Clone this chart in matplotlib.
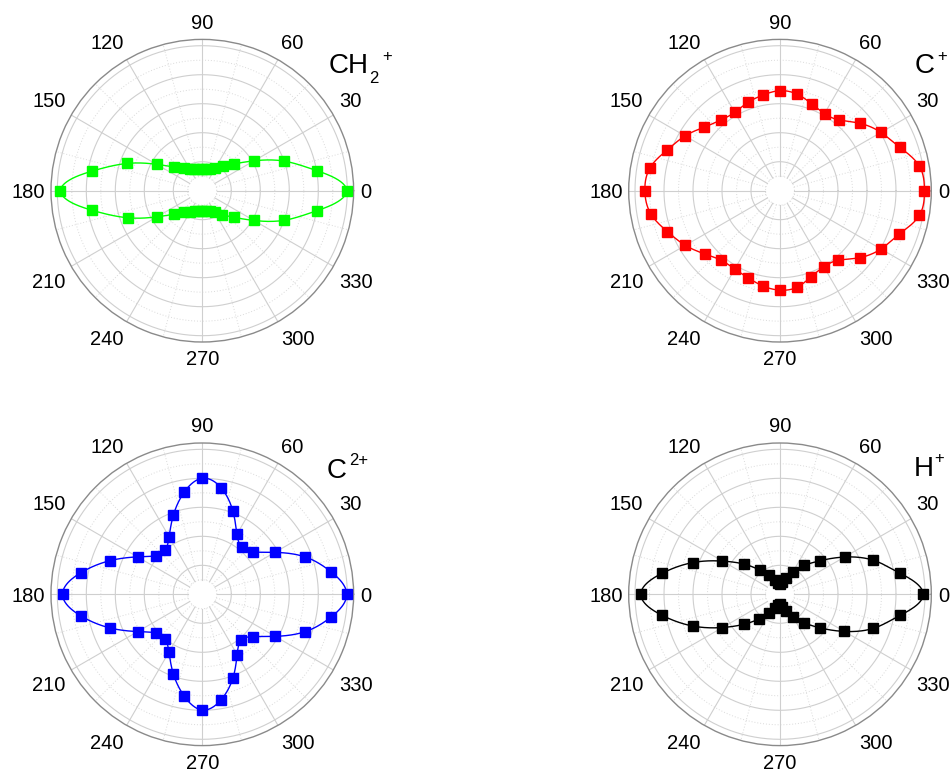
import numpy as np
import matplotlib
matplotlib.use('Agg')
import matplotlib.pyplot as plt

plt.rcParams['font.family'] = ['Liberation Sans', 'DejaVu Sans']

# ---------------- data ----------------
angles_deg = list(range(0, 360, 10))

ch2_plus = [4.98, 4.00, 2.99, 2.06, 1.44, 1.11, 0.90, 0.80, 0.75, 0.74, 0.75, 0.79,
            0.87, 1.00, 1.28, 1.82, 2.75, 3.87, 4.89, 3.87, 2.73, 1.80, 1.26, 0.98,
            0.85, 0.76, 0.71, 0.70, 0.71, 0.76, 0.86, 1.08, 1.43, 2.05, 2.99, 4.00]

c_plus = [4.98, 4.88, 4.39, 4.02, 3.61, 3.18, 3.07, 3.19, 3.38, 3.45, 3.35, 3.24,
          3.12, 3.18, 3.41, 3.78, 4.13, 4.55, 4.66, 4.53, 4.13, 3.77, 3.39, 3.14,
          3.12, 3.20, 3.34, 3.43, 3.38, 3.15, 3.03, 3.13, 3.59, 4.02, 4.38, 4.88]

c2_plus = [4.98, 4.50, 3.77, 2.89, 2.26, 2.11, 2.39, 3.07, 3.73, 4.00, 3.58, 2.91,
           2.29, 1.98, 2.07, 2.58, 3.39, 4.26, 4.82, 4.26, 3.39, 2.57, 2.07, 1.99,
           2.30, 2.92, 3.57, 3.99, 3.70, 3.08, 2.40, 2.07, 2.27, 2.90, 3.77, 4.51]

h_plus = [4.94, 4.20, 3.43, 2.57, 1.80, 1.30, 0.90, 0.60, 0.42, 0.34, 0.40, 0.54,
          0.75, 1.09, 1.62, 2.29, 3.20, 4.14, 4.80, 4.14, 3.20, 2.29, 1.60, 1.10,
          0.75, 0.52, 0.37, 0.32, 0.44, 0.62, 0.90, 1.28, 1.80, 2.56, 3.43, 4.20]

series = [ch2_plus, c_plus, c2_plus, h_plus]
# species label parts: (base, subscript, superscript)
species_base = ['CH', 'C', 'C', 'H']
species_sub = ['2', '', '', '']
species_sup = ['+', '+', '2+', '+']
colors = ['#00ff00', '#ff0000', '#0000ff', '#000000']

angle_ticks = list(range(0, 360, 30))
angle_labels = [str(a) for a in angle_ticks]

major_rings = [1, 2, 3, 4, 5]
minor_rings = [0.5, 1.5, 2.5, 3.5, 4.5]

# ---------------- layout (pixels) ----------------
W, H = 953, 772
R = 151.3
RMAX = R / 29.0
centers = [(202.3, 190.7), (780.0, 190.7), (202.3, 594.3), (780.0, 594.3)]
base_pos = [(328.3, 73.3), (915.0, 73.3), (326.7, 478.3), (913.3, 476.5)]
sub_pos = [(369.5, 83.0), None, None, None]
sup_pos = [(382.0, 61.5), (937.0, 60.5), (349.5, 465.0), (933.8, 463.5)]

label_style = {
    0: (7.0, 0.0, 'left', 'center_baseline'),
    30: (5.6, -8.5, 'left', 'baseline'),
    60: (3.2, -10.2, 'left', 'baseline'),
    90: (0.0, -10.7, 'center', 'baseline'),
    120: (-3.2, -10.2, 'right', 'baseline'),
    150: (-5.6, -8.5, 'right', 'baseline'),
    180: (-6.0, 0.0, 'right', 'center_baseline'),
    210: (-5.6, 6.5, 'right', 'top'),
    240: (-3.4, 8.2, 'right', 'top'),
    270: (0.0, 8.0, 'center', 'top'),
    300: (3.4, 8.2, 'left', 'top'),
    330: (5.6, 6.5, 'left', 'top'),
}


def periodic_spline(vals, steps=24):
    y = np.asarray(vals, dtype=float)
    n = len(y)
    h = 2 * np.pi / n
    A = 4.0 * np.eye(n)
    for i in range(n):
        A[i, (i - 1) % n] = 1.0
        A[i, (i + 1) % n] = 1.0
    rhs = 6.0 / h ** 2 * (np.roll(y, -1) - 2 * y + np.roll(y, 1))
    M = np.linalg.solve(A, rhs)
    u = np.arange(steps) / steps
    ts, rs = [], []
    for i in range(n):
        j = (i + 1) % n
        s = ((1 - u) * y[i] + u * y[j]
             + h ** 2 / 6.0 * (((1 - u) ** 3 - (1 - u)) * M[i] + (u ** 3 - u) * M[j]))
        ts.append(i * h + u * h)
        rs.append(s)
    t = np.concatenate(ts + [[2 * np.pi]])
    r = np.concatenate(rs + [[y[0]]])
    return t, r


fig = plt.figure(figsize=(W / 100, H / 100), dpi=100)

circle_t = np.arange(0, 721) / 720 * 2 * np.pi


def ftext(px, py, s, **kw):
    fig.text(px / W, 1 - py / H, s, **kw)


for k, (cx, cy) in enumerate(centers):
    ax = fig.add_axes([(cx - R) / W, (H - cy - R) / H, 2 * R / W, 2 * R / H],
                      projection='polar')
    ax.set_ylim(0, RMAX)
    ax.set_xticks([])
    ax.set_yticks([])
    ax.grid(False)
    ax.spines['polar'].set_color('#8a8a8a')
    ax.spines['polar'].set_linewidth(1.0)

    # grid
    for rr in major_rings:
        ax.plot(circle_t, np.full_like(circle_t, rr), color='#cfcfcf', lw=0.8, zorder=1)
    for rr in minor_rings:
        ax.plot(circle_t, np.full_like(circle_t, rr), color='#dadada', lw=0.7,
                ls=(0, (1, 2)), zorder=1)
    for a in angle_ticks:
        th = np.deg2rad(a)
        ax.plot([th, th], [0.5, RMAX], color='#cfcfcf', lw=0.8, zorder=1)
        th2 = np.deg2rad(a + 15)
        ax.plot([th2, th2], [0.5, RMAX], color='#dadada', lw=0.7,
                ls=(0, (1, 2)), zorder=1)

    # data
    vals = series[k]
    th_pts = np.deg2rad(angles_deg)
    tf, rf = periodic_spline(vals)
    ax.plot(tf, rf, '-', color=colors[k], lw=1.0, zorder=3)
    ax.plot(th_pts, vals, 's', color=colors[k], mec=colors[k], ms=7.0,
            zorder=4, clip_on=False)

    # angle labels
    for a, lab in zip(angle_ticks, angle_labels):
        dx, dy, ha, va = label_style[a]
        th = np.deg2rad(a)
        px = cx + R * np.cos(th) + dx
        py = cy - R * np.sin(th) + dy
        ftext(px, py, lab, fontsize=14.5, ha=ha, va=va, color='black')

    # species label
    bx, by = base_pos[k]
    ftext(bx, by, species_base[k], fontsize=20, ha='left', va='baseline')
    if species_sub[k]:
        sx, sy = sub_pos[k]
        ftext(sx, sy, species_sub[k], fontsize=12, ha='left', va='baseline')
    sx, sy = sup_pos[k]
    ftext(sx, sy, species_sup[k], fontsize=12, ha='left', va='baseline')

fig.savefig('out.png', dpi=100, facecolor='white')
